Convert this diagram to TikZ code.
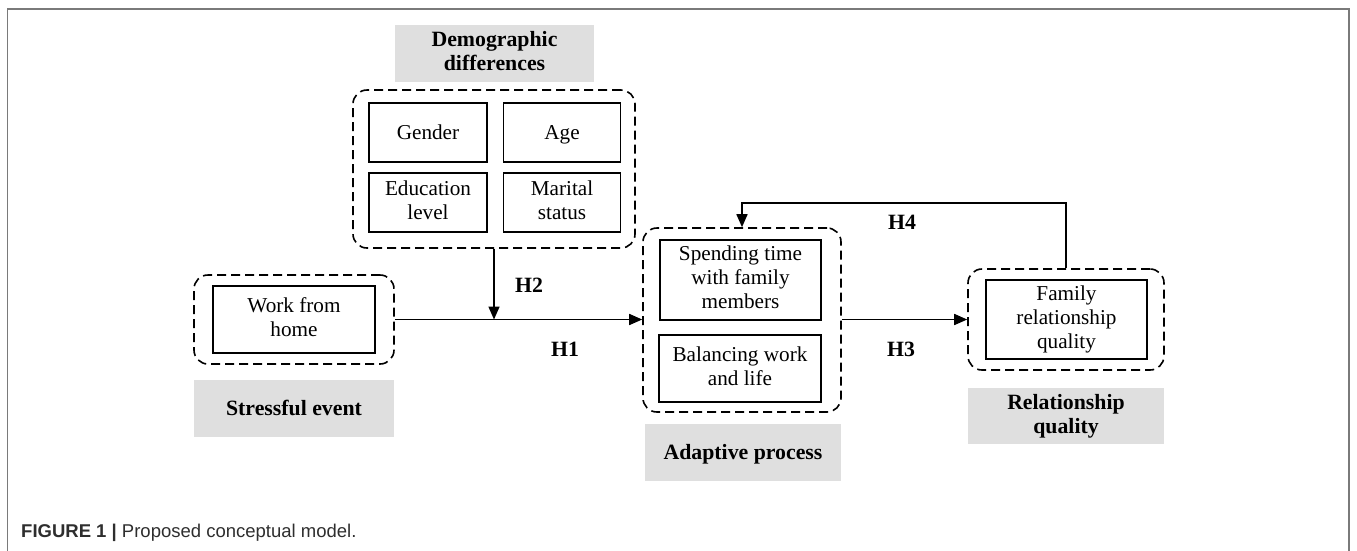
\documentclass[tikz,border=0pt]{standalone}
\usepackage{fontspec}
\setmainfont{Liberation Serif}
\newfontfamily\capfont{Liberation Sans}
\usetikzlibrary{arrows.meta}
\definecolor{boxgray}{HTML}{DFDFDF}
\definecolor{framegray}{HTML}{7A7A7A}
\definecolor{captext}{HTML}{2E2E2E}
\newcommand\topstrut{\rule{0pt}{19pt}}
\newcommand\botstrut{\rule[-5pt]{0pt}{5pt}}
\begin{document}
\begin{tikzpicture}[x=1pt,y=-1pt,
  groupbox/.style={draw, dash pattern=on 9pt off 5pt, rounded corners=14pt, line width=1.6pt, inner sep=0pt},
  itembox/.style={draw, line width=1.6pt, align=center, inner sep=0pt, font=\fontsize{21.2}{24}\selectfont,
    execute at begin node=\topstrut, execute at end node=\botstrut},
  labelbox/.style={fill=boxgray, align=center, inner sep=0pt, font=\bfseries\fontsize{21.8}{24}\selectfont,
    execute at begin node=\topstrut, execute at end node=\botstrut},
  hyp/.style={font=\bfseries\fontsize{21.8}{24}\selectfont, inner sep=0pt},
  conn/.style={line width=1.6pt, -{Triangle[length=13pt,width=11pt]}}]
\useasboundingbox (0,0) rectangle (1357,550);
% outer frame (open at the bottom)
\draw[framegray, line width=1.3pt] (7.5,551) -- (7.5,9) -- (1349,9) -- (1349,551);

% demographic group
\node[labelbox, minimum width=199pt, minimum height=57pt] (demolab) at (494.5,53.5) {Demographic\\differences};
\node[groupbox, minimum width=282pt, minimum height=158pt] (demo) at (494,169) {};
\node[itembox, minimum width=118pt, minimum height=59pt] (gender) at (428,132.5) {Gender};
\node[itembox, minimum width=117pt, minimum height=59pt] (age) at (562,132.5) {Age};
\node[itembox, minimum width=118pt, minimum height=59pt] (edu) at (428,202.5) {Education\\level};
\node[itembox, minimum width=117pt, minimum height=59pt] (marital) at (562,202.5) {Marital\\status};

% stressful event
\node[groupbox, minimum width=200pt, minimum height=89pt] (workg) at (294,319.5) {};
\node[itembox, minimum width=162pt, minimum height=67pt] (work) at (294,319.5) {Work from\\home};
\node[labelbox, minimum width=200pt, minimum height=57pt] (stresslab) at (294,408.5) {Stressful event};

% adaptive process
\node[groupbox, minimum width=198pt, minimum height=184pt] (adapt) at (742,320) {};
\node[itembox, minimum width=161pt, minimum height=80pt] (spend) at (740.5,280) {Spending time\\with family\\members};
\node[itembox, minimum width=162pt, minimum height=67pt] (balance) at (740,368.5) {Balancing work\\and life};
\node[labelbox, minimum width=196pt, minimum height=57pt] (adaptlab) at (743,452.5) {Adaptive process};

% relationship quality
\node[groupbox, minimum width=196pt, minimum height=101pt] (famg) at (1066,319.5) {};
\node[itembox, minimum width=161pt, minimum height=79pt] (fam) at (1066.5,319.5) {Family\\relationship\\quality};
\node[labelbox, minimum width=196pt, minimum height=56pt] (rellab) at (1066,416) {Relationship\\quality};

% connectors
\coordinate (join) at (demo.south |- workg.east);
\draw[conn] (workg.east) -- (adapt.west |- workg.east);
\draw[conn] (demo.south) -- (join);
\draw[conn] (adapt.east |- famg.west) -- (famg.west);
\coordinate (h4top) at (1066,203);
\draw[conn] (famg.north) -- (h4top) -| (adapt.north);

% hypothesis labels
\node[hyp] (h1) at (565,349) {H1};
\node[hyp] (h2) at (529,285) {H2};
\node[hyp] (h3) at (901,349) {H3};
\node[hyp] (h4) at (902,222) {H4};

% caption
\node[anchor=base west, inner sep=0pt, text=captext, font=\capfont\fontsize{18.5}{20}\selectfont] (cap) at (21,537) {\textbf{FIGURE 1 |} Proposed conceptual model.};
\end{tikzpicture}
\end{document}
